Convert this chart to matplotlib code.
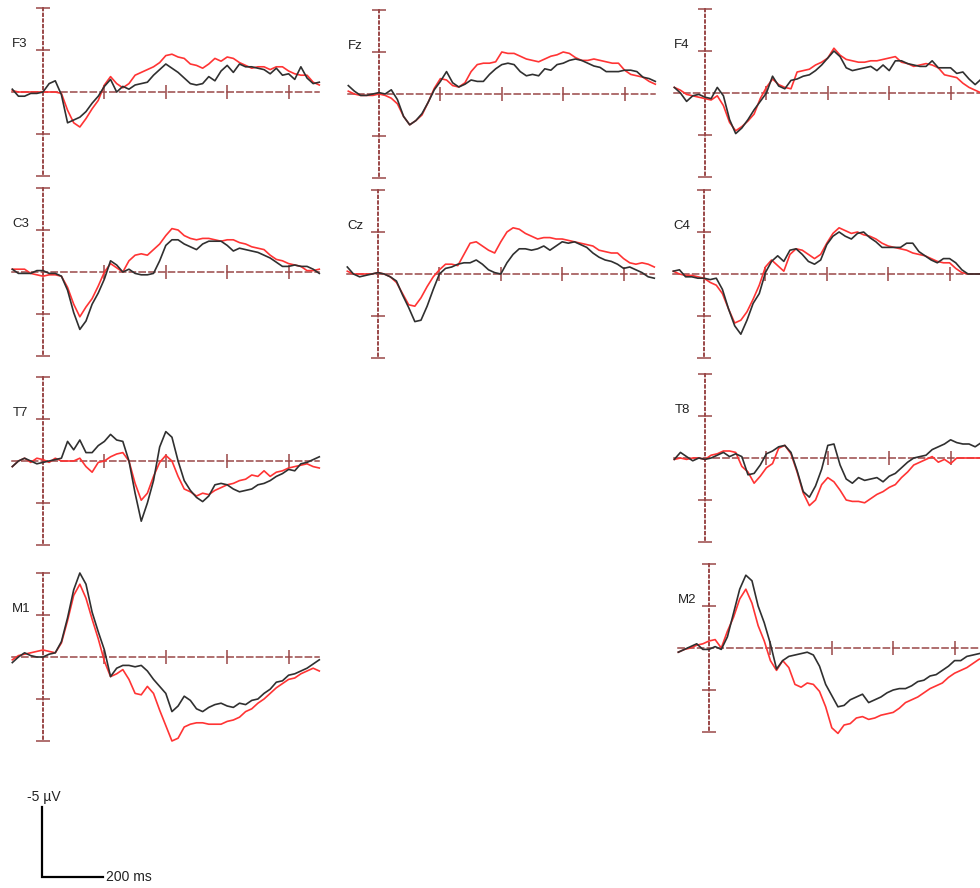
import numpy as np
import matplotlib.pyplot as plt

plt.rcParams['font.family'] = ['Liberation Sans', 'DejaVu Sans']

# epoch time base in ms, shared by every channel
times = np.arange(-100, 901, 20)

# grand-average amplitudes in uV (negative plotted upwards)
f3_black = [-0.2, 0.3, 0.3, 0.1, 0.1, 0.0,
            -0.6, -0.8, 0.2, 2.2, 2.0, 1.8, 1.4, 0.8, 0.3, -0.4,
            -0.9, 0.0, -0.4, -0.2, -0.5, -0.6, -0.7, -1.2, -1.6, -2.0,
            -1.7, -1.4, -1.0, -0.6, -0.5, -0.6, -1.1, -0.8, -1.5, -1.9,
            -1.4, -2.0, -1.8, -1.8, -1.7, -1.6, -1.3, -1.7, -1.2, -1.3,
            -0.9, -1.8, -1.0, -0.6, -0.7]
f3_red = [-0.1, 0.0, 0.0, 0.0, 0.0, 0.0,
          0.0, 0.0, 0.1, 1.3, 2.2, 2.5, 1.9, 1.2, 0.6, -0.5,
          -1.1, -0.6, -0.3, -0.6, -1.2, -1.4, -1.6, -1.8, -2.1, -2.6,
          -2.7, -2.5, -2.4, -2.0, -1.9, -1.7, -2.0, -2.4, -2.2, -2.5,
          -2.4, -2.1, -1.9, -1.7, -1.8, -1.8, -1.6, -1.8, -1.8, -1.5,
          -1.3, -1.2, -1.2, -0.7, -0.5]

fz_black = [-0.6, -0.2, 0.1, 0.1, 0.0, -0.1,
            0.0, -0.3, 0.4, 1.6, 2.2, 1.9, 1.4, 0.6, -0.3, -0.9,
            -1.6, -0.8, -0.5, -0.7, -1.0, -0.9, -0.9, -1.4, -1.8, -2.1,
            -2.2, -2.1, -1.6, -1.3, -1.4, -1.3, -1.8, -1.7, -2.1, -2.2,
            -2.4, -2.5, -2.4, -2.2, -2.0, -1.9, -1.6, -1.6, -1.6, -1.7,
            -1.7, -1.6, -1.2, -1.1, -0.9]
fz_red = [-0.2, 0.0, 0.1, 0.1, 0.1, 0.0,
          0.1, 0.3, 0.7, 1.6, 2.2, 1.9, 1.5, 0.6, -0.4, -1.1,
          -1.0, -0.6, -0.5, -0.8, -1.6, -2.1, -2.2, -2.2, -2.3, -3.0,
          -2.9, -2.9, -2.7, -2.5, -2.4, -2.3, -2.5, -2.7, -2.8, -3.0,
          -2.9, -2.6, -2.4, -2.4, -2.5, -2.4, -2.3, -2.2, -2.2, -1.7,
          -1.4, -1.3, -1.2, -0.9, -0.7]

f4_black = [-0.4, 0.0, 0.6, 0.2, 0.1, 0.3,
            0.4, -0.4, 0.2, 1.9, 2.9, 2.5, 1.9, 1.2, 0.6, 0.0,
            -1.2, -0.5, -0.3, -0.9, -1.0, -1.2, -1.3, -1.6, -2.0, -2.5,
            -3.0, -2.6, -1.8, -1.6, -1.7, -1.8, -1.9, -1.6, -2.0, -1.6,
            -2.3, -2.3, -2.1, -2.0, -1.9, -1.9, -2.3, -1.8, -1.8, -1.8,
            -1.4, -1.5, -1.0, -0.6, -1.0]
f4_red = [-0.4, -0.2, 0.1, 0.2, 0.3, 0.4,
          0.5, 0.2, 0.9, 2.1, 2.7, 2.4, 2.0, 1.5, 0.4, -0.4,
          -1.0, -0.6, -0.4, -0.3, -1.5, -1.6, -1.7, -2.0, -2.2, -2.5,
          -3.2, -2.7, -2.4, -2.3, -2.2, -2.2, -2.3, -2.3, -2.4, -2.5,
          -2.6, -2.2, -2.1, -1.9, -2.0, -2.1, -2.0, -1.8, -1.3, -1.2,
          -1.1, -0.7, -0.4, -0.2, 0.0]

c3_black = [-0.2, 0.1, 0.1, 0.1, -0.1, -0.1,
            0.1, 0.1, 0.3, 1.3, 2.9, 4.1, 3.5, 2.3, 1.5, 0.5,
            -0.8, -0.5, 0.0, -0.2, 0.1, 0.2, 0.2, 0.1, -0.8, -1.9,
            -2.3, -2.3, -2.0, -1.8, -1.6, -2.0, -2.2, -2.2, -2.2, -1.9,
            -1.5, -1.7, -1.6, -1.5, -1.4, -1.2, -1.0, -0.7, -0.4, -0.4,
            -0.5, -0.4, -0.4, -0.2, 0.1]
c3_red = [-0.2, -0.2, -0.2, 0.1, 0.2, 0.3,
          0.2, 0.2, 0.3, 1.1, 2.3, 3.2, 2.5, 1.9, 1.0, 0.0,
          -0.6, -0.3, 0.0, -0.8, -1.2, -1.3, -1.2, -1.6, -2.0, -2.6,
          -3.1, -3.0, -2.6, -2.4, -2.3, -2.4, -2.4, -2.3, -2.2, -2.3,
          -2.3, -2.1, -2.0, -1.8, -1.7, -1.6, -1.2, -0.9, -0.8, -0.6,
          -0.5, -0.4, -0.1, -0.1, -0.2]

cz_black = [-0.5, 0.0, 0.2, 0.1, 0.0, -0.1,
            0.0, 0.2, 0.5, 1.5, 2.4, 3.4, 3.3, 2.3, 1.1, 0.0,
            -0.4, -0.5, -0.7, -0.8, -0.8, -1.0, -0.7, -0.3, -0.1, 0.0,
            -0.8, -1.4, -1.8, -1.8, -1.7, -1.8, -2.0, -1.7, -2.0, -2.3,
            -2.2, -2.3, -2.1, -1.9, -1.5, -1.2, -1.0, -0.9, -0.7, -0.4,
            -0.5, -0.3, -0.1, 0.2, 0.3]
cz_red = [-0.2, 0.0, 0.0, 0.0, 0.0, -0.1,
          0.0, 0.2, 0.6, 1.4, 2.2, 2.3, 1.7, 0.9, 0.2, -0.3,
          -0.7, -0.7, -0.6, -1.4, -2.2, -2.3, -2.0, -1.7, -1.5, -2.3,
          -3.0, -3.3, -3.2, -2.9, -2.7, -2.5, -2.6, -2.6, -2.5, -2.5,
          -2.4, -2.3, -2.2, -2.1, -2.0, -1.7, -1.6, -1.5, -1.5, -1.1,
          -0.8, -0.7, -0.8, -0.7, -0.5]

c4_black = [-0.2, -0.3, 0.2, 0.2, 0.3, 0.3,
            0.4, 0.3, 1.1, 2.5, 3.7, 4.3, 3.3, 2.1, 1.4, -0.1,
            -0.9, -1.3, -0.9, -1.7, -1.8, -1.4, -0.9, -0.7, -1.0, -2.1,
            -2.7, -3.0, -2.7, -2.5, -2.9, -3.0, -2.6, -2.3, -1.9, -1.9,
            -1.9, -1.9, -2.2, -2.2, -1.6, -1.3, -1.0, -0.8, -1.1, -1.1,
            -0.8, -0.3, 0.0, 0.0, 0.0]
c4_red = [-0.2, 0.0, 0.1, 0.1, 0.2, 0.3,
          0.6, 0.8, 1.4, 2.5, 3.5, 3.3, 2.7, 1.8, 0.8, -0.5,
          -1.0, -0.6, -0.2, -1.4, -1.8, -1.7, -1.4, -1.1, -1.4, -2.2,
          -2.9, -3.3, -3.1, -2.9, -3.0, -2.8, -2.7, -2.5, -2.2, -2.0,
          -1.9, -1.8, -1.7, -1.5, -1.4, -1.3, -1.1, -0.9, -0.8, -0.8,
          -0.4, -0.1, 0.0, 0.0, 0.0]

t7_black = [0.4, 0.0, -0.2, 0.0, 0.2, 0.1,
            0.0, -0.1, -0.2, -1.4, -0.8, -1.5, -0.6, -0.6, -1.1, -1.4,
            -1.9, -1.5, -1.4, 0.0, 2.3, 4.3, 3.0, 1.4, -1.0, -2.1,
            -1.7, 0.0, 1.4, 2.1, 2.6, 2.9, 2.5, 1.7, 1.6, 1.7,
            2.0, 2.2, 2.1, 2.0, 1.7, 1.6, 1.4, 1.1, 0.9, 0.6,
            0.7, 0.2, 0.1, -0.1, -0.3]
t7_red = [0.4, 0.0, -0.2, 0.1, -0.2, -0.1,
          0.1, -0.2, 0.0, 0.0, 0.0, -0.2, 0.4, 0.8, 0.1, 0.0,
          -0.3, -0.5, -0.6, 0.0, 1.6, 2.8, 2.3, 1.1, 0.1, -0.4,
          0.0, 1.1, 2.0, 2.2, 2.5, 2.3, 2.4, 2.1, 1.9, 1.7,
          1.6, 1.4, 1.3, 1.0, 1.1, 0.7, 1.1, 0.8, 0.7, 0.5,
          0.4, 0.3, 0.2, 0.4, 0.5]

t8_black = [0.1, -0.4, -0.1, 0.2, 0.0, 0.1,
            0.0, -0.2, -0.4, -0.1, -0.3, -0.1, 1.2, 1.1, 0.5, -0.3,
            -0.5, -0.8, -0.9, -0.4, 0.9, 2.4, 2.8, 2.0, 0.8, -0.9,
            -1.0, 0.5, 1.5, 1.8, 1.4, 1.6, 1.5, 1.4, 1.7, 1.3,
            1.1, 0.7, 0.3, 0.0, -0.1, -0.2, -0.6, -0.8, -1.0, -1.3,
            -1.1, -1.0, -1.0, -0.8, -1.1]
t8_red = [0.1, 0.0, 0.1, 0.0, 0.0, 0.1,
          -0.2, -0.3, -0.5, -0.5, -0.4, 0.6, 1.0, 1.8, 1.3, 0.7,
          0.4, -0.7, -0.9, -0.3, 1.0, 2.5, 3.4, 3.0, 1.9, 1.4,
          1.7, 2.3, 3.0, 3.1, 3.1, 3.2, 2.9, 2.6, 2.4, 2.1,
          1.9, 1.4, 1.0, 0.5, 0.3, 0.1, -0.1, 0.3, 0.1, 0.4,
          0.0, 0.0, 0.0, 0.0, 0.0]

m1_black = [0.4, 0.0, -0.3, -0.1, 0.0, 0.0,
            -0.2, -0.3, -1.1, -2.8, -4.8, -6.0, -5.2, -3.2, -1.8, -0.5,
            1.4, 0.8, 0.6, 0.6, 0.7, 0.6, 1.0, 1.6, 2.1, 2.6,
            3.9, 3.5, 2.8, 3.1, 3.7, 3.9, 3.6, 3.4, 3.3, 3.5,
            3.6, 3.3, 3.4, 3.1, 3.0, 2.6, 2.3, 1.8, 1.7, 1.3,
            1.2, 1.0, 0.8, 0.5, 0.2]
m1_red = [0.2, -0.1, -0.2, -0.3, -0.4, -0.5,
          -0.4, -0.3, -1.0, -2.6, -4.4, -5.2, -4.2, -2.7, -1.3, 0.3,
          1.4, 1.2, 0.9, 1.6, 2.6, 2.7, 2.1, 2.6, 3.8, 4.9,
          6.0, 5.8, 5.0, 4.8, 4.7, 4.7, 4.8, 4.8, 4.8, 4.6,
          4.5, 4.3, 3.9, 3.7, 3.3, 3.0, 2.6, 2.2, 1.9, 1.6,
          1.5, 1.2, 1.0, 0.8, 1.0]

m2_black = [0.3, 0.1, -0.1, -0.3, 0.1, 0.1,
            -0.1, 0.1, -0.8, -2.5, -4.2, -5.2, -4.8, -3.0, -1.8, -0.3,
            1.5, 0.9, 0.6, 0.5, 0.4, 0.3, 0.5, 1.3, 2.6, 3.4,
            4.2, 4.1, 3.7, 3.5, 3.3, 3.9, 3.7, 3.5, 3.2, 3.0,
            2.9, 2.9, 2.7, 2.4, 2.3, 2.0, 1.9, 1.6, 1.3, 0.9,
            0.9, 0.6, 0.5, 0.4, 0.3]
m2_red = [0.3, 0.1, 0.0, -0.2, -0.3, -0.5,
          -0.6, 0.0, -1.2, -2.2, -3.5, -4.2, -3.2, -1.6, -0.5, 0.9,
          1.6, 0.9, 1.4, 2.6, 2.8, 2.5, 2.6, 3.1, 4.2, 5.7,
          6.1, 5.5, 5.4, 5.0, 4.9, 5.1, 5.0, 4.8, 4.7, 4.6,
          4.3, 3.9, 3.7, 3.5, 3.2, 2.9, 2.7, 2.5, 2.1, 1.8,
          1.6, 1.4, 1.1, 0.8, 0.7]

channels = ['F3', 'Fz', 'F4', 'C3', 'Cz', 'C4', 'T7', 'T8', 'M1', 'M2']
black_waves = [f3_black, fz_black, f4_black, c3_black, cz_black,
               c4_black, t7_black, t8_black, m1_black, m2_black]
red_waves = [f3_red, fz_red, f4_red, c3_red, cz_red,
             c4_red, t7_red, t8_red, m1_red, m2_red]

# page position (pixels) of each channel's 0 ms / 0 uV crossing
origins = {
    'F3': (43, 92), 'Fz': (379, 94), 'F4': (705, 93),
    'C3': (43, 272), 'Cz': (378, 274), 'C4': (704, 274),
    'T7': (43, 461), 'T8': (705, 458),
    'M1': (43, 657), 'M2': (709, 648),
}

W, H = 980, 888
PX_MS = 0.307      # pixels per ms
PX_UV = 14.0       # pixels per uV
AX_COLOR = '#9a4848'
RED = '#ff3434'
BLACK = '#303030'

fig = plt.figure(figsize=(W / 100, H / 100), dpi=100)


def pixel_axes(x0, y0, t_lo, t_hi, v_lo, v_hi):
    """Axes whose data origin lands on page pixel (x0, y0)."""
    left = x0 + t_lo * PX_MS
    width = (t_hi - t_lo) * PX_MS
    top = y0 + v_lo * PX_UV
    height = (v_hi - v_lo) * PX_UV
    ax = fig.add_axes([left / W, 1 - (top + height) / H, width / W, height / H])
    ax.set_xlim(t_lo, t_hi)
    ax.set_ylim(v_hi, v_lo)   # negative up
    ax.patch.set_visible(False)
    return ax


for name, blk, red in zip(channels, black_waves, red_waves):
    x0, y0 = origins[name]
    ax = pixel_axes(x0, y0, -110, 910, -6.6, 6.6)

    for side in ('top', 'right'):
        ax.spines[side].set_visible(False)
    left = ax.spines['left']
    left.set_position(('data', 0))
    left.set_bounds(-6, 6)
    left.set_linestyle((0, (1.2, 1.7)))
    left.set_linewidth(1.4)
    left.set_color(AX_COLOR)
    bottom = ax.spines['bottom']
    bottom.set_position(('data', 0))
    bottom.set_bounds(-100, 900)
    bottom.set_linestyle((0, (4, 2.4)))
    bottom.set_linewidth(1.1)
    bottom.set_color(AX_COLOR)

    ax.set_yticks([-6, -3, 3, 6])
    ax.set_xticks([200, 400, 600, 800])
    ax.tick_params(direction='inout', length=10, width=1.1, color=AX_COLOR,
                   labelleft=False, labelbottom=False)

    ax.plot(times, red, color=RED, lw=1.2, zorder=3)
    ax.plot(times, blk, color=BLACK, lw=1.2, zorder=4)
    ax.text(-100, -3.4, name, fontsize=9.5, color='#222222',
            ha='left', va='center')

# calibration bar: 5 uV (negative up) by 200 ms
sb = pixel_axes(42, 877, 0, 200, -5, 0)
sb.axis('off')
sb.plot([0, 0, 200], [-5, 0, 0], color='black', lw=1.6, clip_on=False,
        solid_joinstyle='miter')
sb.annotate('-5 µV', (0, -5), xytext=(-15, 3), textcoords='offset pixels',
            ha='left', va='bottom', fontsize=10, color='#222222')
sb.annotate('200 ms', (200, 0), xytext=(3, 0), textcoords='offset pixels',
            ha='left', va='center', fontsize=10, color='#222222')

fig.savefig('out.png', dpi=100)
